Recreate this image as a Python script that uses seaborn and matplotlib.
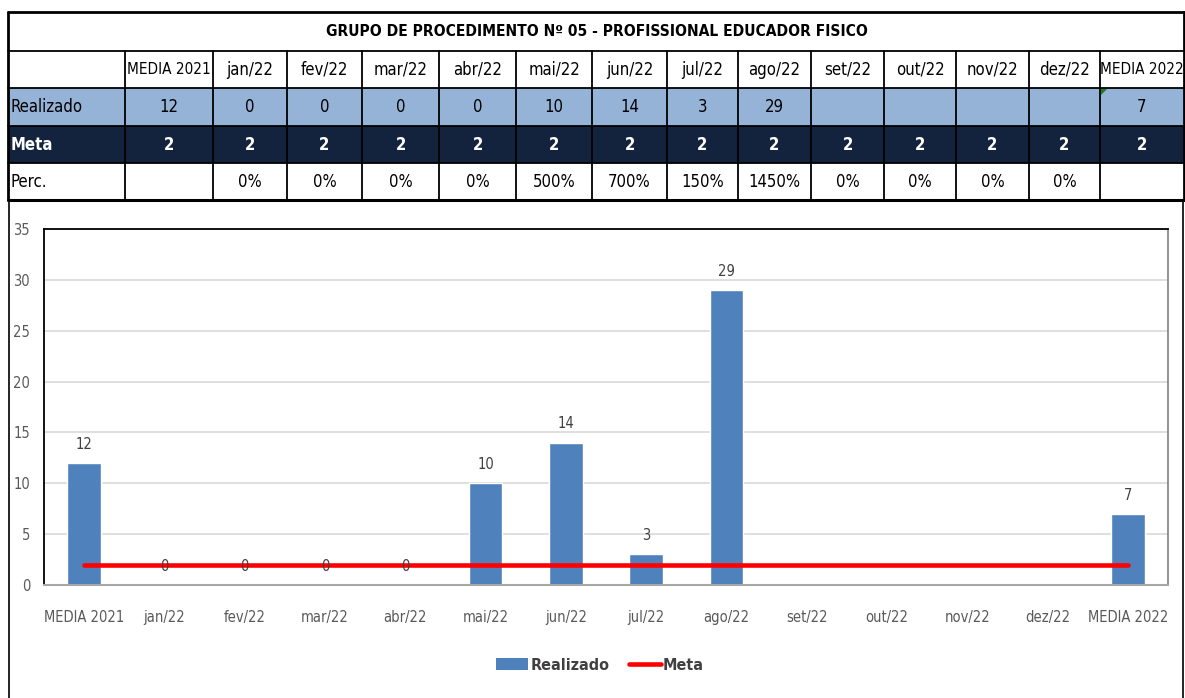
import numpy as np
import pandas as pd
import seaborn as sns
import matplotlib
matplotlib.use("Agg")
import matplotlib.pyplot as plt
from matplotlib.patches import Rectangle, Patch, Polygon
from matplotlib.lines import Line2D
from matplotlib import font_manager

# ---------------- data ----------------
title = "GRUPO DE PROCEDIMENTO Nº 05 - PROFISSIONAL EDUCADOR FISICO"
categories = ["MEDIA 2021", "jan/22", "fev/22", "mar/22", "abr/22", "mai/22", "jun/22",
              "jul/22", "ago/22", "set/22", "out/22", "nov/22", "dez/22", "MEDIA 2022"]
realizado = [12, 0, 0, 0, 0, 10, 14, 3, 29, np.nan, np.nan, np.nan, np.nan, 7]
meta = [2, 2, 2, 2, 2, 2, 2, 2, 2, 2, 2, 2, 2, 2]
perc = ["", "0%", "0%", "0%", "0%", "500%", "700%", "150%", "1450%", "0%", "0%", "0%", "0%", ""]
row_labels = ["Realizado", "Meta", "Perc."]
yticks = [0, 5, 10, 15, 20, 25, 30, 35]

# ---------------- style ----------------
sns.set_theme(style="white")
names = {f.name for f in font_manager.fontManager.ttflist}
fam = [n for n in ["Liberation Sans Narrow", "DejaVu Sans"] if n in names] or ["DejaVu Sans"]
plt.rcParams['font.family'] = fam
plt.rcParams['font.stretch'] = 'condensed'

W, H = 1185, 698
fig = plt.figure(figsize=(W / 100, H / 100), dpi=100)
fig.patch.set_facecolor("white")


def fx(x):
    return x / W


def fy(y):
    return 1 - y / H


def rect(x0, y0, x1, y1, fc):
    fig.add_artist(Rectangle((fx(x0), fy(y1)), (x1 - x0) / W, (y1 - y0) / H,
                             transform=fig.transFigure, facecolor=fc, edgecolor="none", zorder=1))


def hline(y, x0, x1, lw=1.5, c="black"):
    fig.add_artist(Line2D([fx(x0), fx(x1)], [fy(y), fy(y)], transform=fig.transFigure,
                          color=c, lw=lw, zorder=3))


def vline(x, y0, y1, lw=1.5, c="black"):
    fig.add_artist(Line2D([fx(x), fx(x)], [fy(y0), fy(y1)], transform=fig.transFigure,
                          color=c, lw=lw, zorder=3))


# ---------------- table ----------------
col_edges = [8, 125, 213, 287, 362, 439, 516, 592, 667, 738, 811, 884, 956, 1029, 1100, 1184]
row_edges = [12, 51, 88, 126, 163, 200]
light_blue = "#95B3D7"
navy = "#13233E"

rect(8, 88, 1184, 126, light_blue)
rect(8, 126, 1184, 163, navy)

fig.text(fx(597), fy(31.5), title, ha="center", va="center", fontsize=11.2, fontweight="bold", color="black")

fs_cell = 12
for i, cat in enumerate(categories):
    cx = (col_edges[i + 1] + col_edges[i + 2]) / 2
    fs = 11 if cat.startswith("MEDIA") else fs_cell
    fig.text(fx(cx), fy(70), cat, ha="center", va="center", fontsize=fs, color="black")
    v = realizado[i]
    if not np.isnan(v):
        fig.text(fx(cx), fy(107.5), f"{v:g}", ha="center", va="center", fontsize=fs_cell, color="black")
    fig.text(fx(cx), fy(145), f"{meta[i]:g}", ha="center", va="center", fontsize=fs_cell,
             fontweight="bold", color="white")
    if perc[i]:
        fig.text(fx(cx), fy(182), perc[i], ha="center", va="center", fontsize=fs_cell, color="black")

fig.text(fx(11), fy(107.5), row_labels[0], ha="left", va="center", fontsize=fs_cell, color="black")
fig.text(fx(11), fy(145), row_labels[1], ha="left", va="center", fontsize=fs_cell, fontweight="bold", color="white")
fig.text(fx(11), fy(182), row_labels[2], ha="left", va="center", fontsize=fs_cell, color="black")

# small green error marker in MEDIA 2022 cell
fig.add_artist(Polygon([[fx(1101), fy(89)], [fx(1107), fy(89)], [fx(1101), fy(95)]], closed=True,
                       transform=fig.transFigure, facecolor="#1E7B1E", edgecolor="none", zorder=4))

# grid lines of table
hline(12, 8, 1184, lw=2)
for y in row_edges[1:-1]:
    hline(y, 8, 1184, lw=1.3)
hline(200, 8, 1184, lw=2.2)
vline(8, 12, 200, lw=2)
vline(1184, 12, 200, lw=2)
for x in col_edges[1:-1]:
    vline(x, 51, 200, lw=1.3)

# chart frame
vline(8.5, 200, 698, lw=1.2)
vline(1183, 200, 698, lw=1.2)

# ---------------- chart ----------------
ax = fig.add_axes([fx(44), fy(585), (1168 - 44) / W, (585 - 229) / H])
df = pd.DataFrame({"cat": categories, "Realizado": realizado, "Meta": meta})
sns.barplot(data=df, x="cat", y="Realizado", color="#4F81BD", saturation=1, width=0.42, ax=ax, zorder=2)
sns.lineplot(data=df, x="cat", y="Meta", color="#FF0000", linewidth=3.3, sort=False, ax=ax, zorder=3)
ax.lines[-1].set_solid_capstyle("round")

ax.set_xlim(-0.5, len(categories) - 0.5)
ax.set_ylim(0, 35)
ax.set_yticks(yticks)
ax.yaxis.grid(True, color="#D9D9D9", lw=1.2)
ax.set_axisbelow(True)
ax.set_xlabel("")
ax.set_ylabel("")
ax.tick_params(axis="both", length=0, labelsize=10.5, colors="#595959")
ax.tick_params(axis="x", pad=18)
ax.tick_params(axis="y", pad=10)

for s in ["top", "left"]:
    ax.spines[s].set_color("black")
    ax.spines[s].set_linewidth(1.3)
ax.spines["right"].set_color("#7F7F7F")
ax.spines["right"].set_linewidth(1.2)
ax.spines["bottom"].set_color("#A6A6A6")
ax.spines["bottom"].set_linewidth(1.5)

for i, v in enumerate(realizado):
    if not np.isnan(v):
        ax.annotate(f"{v:g}", (i, v), xytext=(0, 8), textcoords="offset points",
                    ha="center", va="bottom", fontsize=10.5, color="#404040", zorder=4)

handles = [Patch(facecolor="#4F81BD", edgecolor="none"),
           Line2D([0], [0], color="#FF0000", lw=3.3)]
leg = ax.legend(handles, ["Realizado", "Meta"], loc="center", bbox_to_anchor=(fx(600), fy(665)),
                bbox_transform=fig.transFigure, ncol=2, frameon=False,
                prop={"size": 11.5, "weight": "bold"}, handlelength=2.0, handletextpad=0.15,
                columnspacing=1.2)
for t in leg.get_texts():
    t.set_color("#404040")

fig.savefig("out.png", dpi=100)
